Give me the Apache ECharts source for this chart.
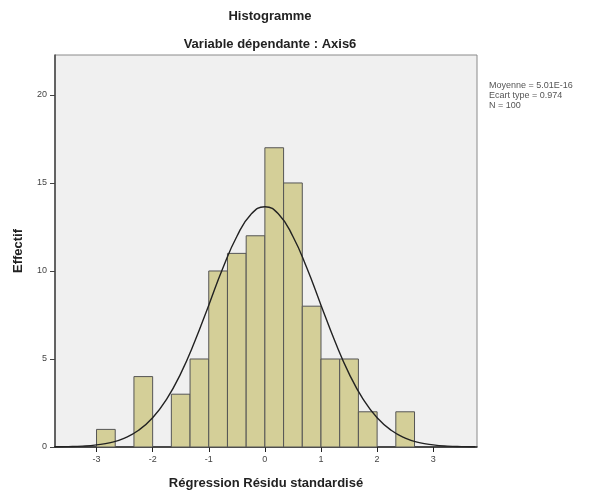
<!DOCTYPE html>
<html>
<head>
<meta charset="utf-8">
<script src="https://cdn.jsdelivr.net/npm/echarts@6/dist/echarts.min.js"></script>
<style>
  html, body { margin: 0; padding: 0; background: #fff; }
  #chart { width: 600px; height: 498px; }
</style>
</head>
<body>
<div id="chart"></div>
<script>
// bornes inférieures des classes (largeur 1/3)
const binStarts = [-3, -7 / 3, -5 / 3, -4 / 3, -1, -2 / 3, -1 / 3, 0, 1 / 3, 2 / 3, 1, 4 / 3, 5 / 3, 7 / 3];
const counts = [1, 4, 3, 5, 10, 11, 12, 17, 15, 8, 5, 5, 2, 2];
const binWidth = 1 / 3;

// courbe normale
const curveX = [-3.75, -3.5, -3.25, -3, -2.75, -2.5, -2.25, -2, -1.75, -1.5, -1.25, -1, -0.75, -0.5, -0.25, 0,
  0.25, 0.5, 0.75, 1, 1.25, 1.5, 1.75, 2, 2.25, 2.5, 2.75, 3, 3.25, 3.5, 3.75];
const curveY = [0.01, 0.02, 0.05, 0.12, 0.25, 0.51, 0.95, 1.66, 2.72, 4.17, 5.99, 8.06, 10.15, 11.96, 13.21, 13.65,
  13.21, 11.96, 10.15, 8.06, 5.99, 4.17, 2.72, 1.66, 0.95, 0.51, 0.25, 0.12, 0.05, 0.02, 0.01];

const xTicks = [-3, -2, -1, 0, 1, 2, 3];
const yTicks = [0, 5, 10, 15, 20];
const statsLines = ["Moyenne = 5.01E-16", "Ecart type = 0.974", "N = 100"];

const chart = echarts.init(document.getElementById("chart"));

const barData = binStarts.map((s, i) => [s, s + binWidth, counts[i]]);

const option = {
  animation: false,
  textStyle: { fontFamily: "Liberation Sans, Arial, sans-serif" },
  title: [
    {
      text: "Histogramme",
      left: 265, top: 5, textAlign: "center",
      textStyle: { fontSize: 13, fontWeight: "bold", color: "#222" }
    },
    {
      text: "Variable dépendante : Axis6",
      left: 265, top: 33, textAlign: "center",
      textStyle: { fontSize: 13, fontWeight: "bold", color: "#222" }
    },
    {
      text: statsLines.join("\n"),
      left: 484, top: 76,
      textStyle: { fontSize: 9, fontWeight: "normal", color: "#555", lineHeight: 10 }
    }
  ],
  grid: {
    left: 55, right: 123, top: 55, bottom: 51,
    show: true,
    backgroundColor: "#f0f0f0",
    borderColor: "#8a8a8a",
    borderWidth: 1
  },
  xAxis: {
    type: "value",
    min: -3.74,
    max: 3.78,
    name: "Régression Résidu standardisé",
    nameLocation: "middle",
    nameGap: 30,
    nameTextStyle: { fontSize: 13, fontWeight: "bold", color: "#222" },
    axisLine: { show: true, onZero: false, lineStyle: { color: "#222", width: 1.5 } },
    axisTick: { show: true, customValues: xTicks, length: 5, lineStyle: { color: "#222" } },
    axisLabel: { customValues: xTicks, fontSize: 9, color: "#444", margin: 8 },
    splitLine: { show: false }
  },
  yAxis: {
    type: "value",
    min: 0,
    max: 22.27,
    name: "Effectif",
    nameLocation: "middle",
    nameGap: 30,
    nameTextStyle: { fontSize: 13, fontWeight: "bold", color: "#222" },
    axisLine: { show: true, onZero: false, lineStyle: { color: "#444", width: 1.5 } },
    axisTick: { show: true, customValues: yTicks, length: 5, lineStyle: { color: "#444" } },
    axisLabel: { customValues: yTicks, fontSize: 9, color: "#444", margin: 8 },
    splitLine: { show: false }
  },
  series: [
    {
      type: "custom",
      data: barData,
      encode: { x: [0, 1], y: 2 },
      renderItem: function (params, api) {
        const p0 = api.coord([api.value(0), 0]);
        const p1 = api.coord([api.value(1), api.value(2)]);
        return {
          type: "rect",
          shape: { x: p0[0], y: p1[1], width: p1[0] - p0[0], height: p0[1] - p1[1] },
          style: { fill: "#d4cf98", stroke: "#555", lineWidth: 1 }
        };
      },
      z: 2
    },
    {
      type: "line",
      data: curveX.map((x, i) => [x, curveY[i]]),
      smooth: true,
      showSymbol: false,
      lineStyle: { color: "#222", width: 1.4 },
      z: 3
    }
  ]
};

chart.setOption(option);
</script>
</body>
</html>
